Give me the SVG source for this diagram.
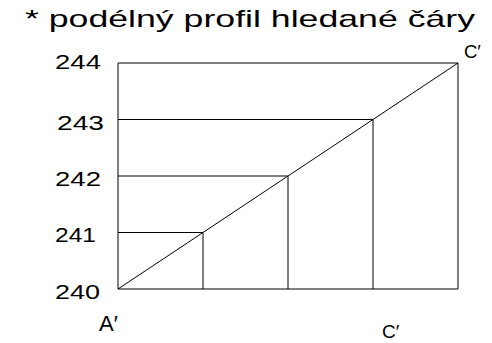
<svg xmlns="http://www.w3.org/2000/svg" width="492" height="343" viewBox="0 0 492 343">
<style>
text{font-family:"Liberation Sans","DejaVu Sans",sans-serif;fill:#000}
.ln{stroke:#000;stroke-width:1;fill:none}
.lv{font-size:21px}
.pt{font-size:22px}
</style>
<rect width="492" height="343" fill="#fff"/>
<text id="title" x="25" y="26.5" font-size="24" textLength="450" lengthAdjust="spacingAndGlyphs">* podélný profil hledané čáry</text>
<g id="levels" class="lv">
<text x="55" y="68.5" textLength="46" lengthAdjust="spacingAndGlyphs">244</text>
<text x="57" y="129.5" textLength="47" lengthAdjust="spacingAndGlyphs">243</text>
<text x="55" y="186" textLength="46" lengthAdjust="spacingAndGlyphs">242</text>
<text x="55" y="242" textLength="41" lengthAdjust="spacingAndGlyphs">241</text>
<text x="55" y="298.5" textLength="45" lengthAdjust="spacingAndGlyphs">240</text>
</g>
<g id="grid" class="ln">
<line x1="118" y1="63" x2="458" y2="63"/>
<line x1="118" y1="119.5" x2="373" y2="119.5"/>
<line x1="118" y1="176" x2="288" y2="176"/>
<line x1="118" y1="232.5" x2="203" y2="232.5"/>
<line x1="118" y1="289" x2="458" y2="289"/>
<line x1="118" y1="63" x2="118" y2="289"/>
<line x1="203" y1="232.5" x2="203" y2="289"/>
<line x1="288" y1="176" x2="288" y2="289"/>
<line x1="373" y1="119.5" x2="373" y2="289"/>
<line x1="458" y1="63" x2="458" y2="289"/>
</g>
<g id="connectors" class="ln">
<line x1="118" y1="289" x2="458" y2="63"/>
</g>
<g id="labels" class="pt">
<text x="464" y="58" font-size="18.5">C′</text>
<text x="99" y="331">A′</text>
<text x="382" y="338" font-size="19">C′</text>
</g>
</svg>
